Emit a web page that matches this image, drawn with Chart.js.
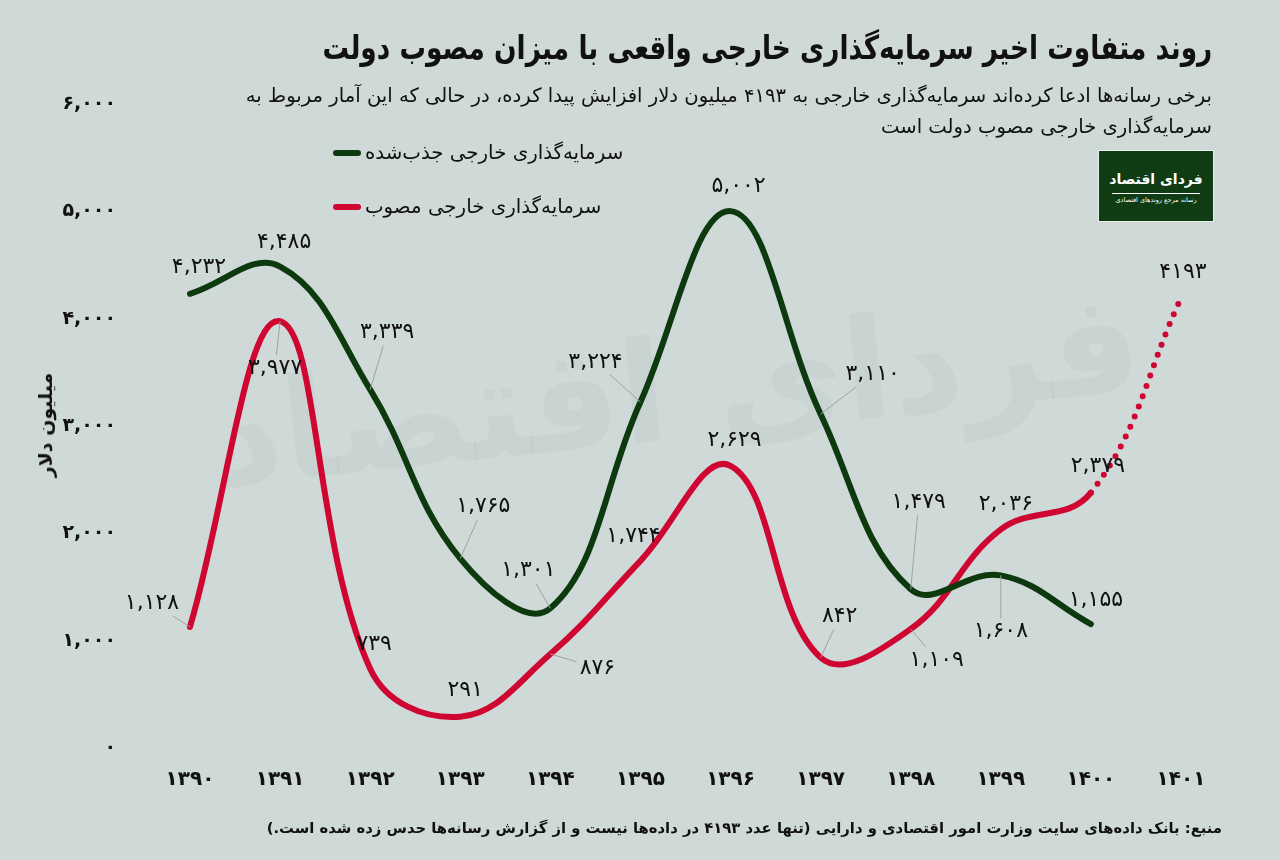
<!DOCTYPE html>
<html lang="fa">
<head>
<meta charset="utf-8">
<script src="https://cdn.jsdelivr.net/npm/chart.js@4.4.1/dist/chart.umd.min.js"></script>
<style>
  html, body { margin: 0; padding: 0; }
  body { width: 1280px; height: 860px; background: #cfd9d7; position: relative; overflow: hidden;
         font-family: "DejaVu Sans", sans-serif; color: #111; }
  #wrap { position: absolute; left: 0; top: 0; width: 1280px; height: 860px; }
  .txt { position: absolute; direction: rtl; white-space: nowrap; }
  #title { right: 68px; top: 28px; font-size: 33px; font-weight: bold; transform: scaleX(0.8); transform-origin: right center; }
  #sub1 { right: 68px; top: 84px; font-size: 19.6px; }
  #sub2 { right: 68px; top: 115px; font-size: 19.6px; }
  .leg { position: absolute; left: 333px; direction: ltr; display: flex; align-items: center; font-size: 19.8px; }
  .leg span.sw { display: inline-block; width: 28px; height: 6px; border-radius: 3px; margin-right: 4px; }
  .leg span.lb { direction: rtl; }
  #ytitle { position: absolute; left: 45px; top: 425px; transform: translate(-50%, -50%) rotate(-90deg);
            font-size: 19px; font-weight: bold; white-space: nowrap; direction: rtl; }
  #source { right: 58px; top: 819px; font-size: 14.8px; font-weight: bold; }
  #logo { position: absolute; left: 1098px; top: 150px; width: 116px; height: 72px; background: #0f3c12;
          border: 1px solid #e8efe9; box-sizing: border-box; color: #fff; text-align: center; direction: rtl; white-space: nowrap; }
  #logo .big { font-size: 14px; font-weight: bold; margin-top: 17px; line-height: 22px; }
  #logo .rule { width: 88px; height: 1px; background: #fff; margin: 3px auto 2px; }
  #logo .small { font-size: 6.5px; }
  #mark { position: absolute; left: 675px; top: 390px; transform: translate(-50%, -50%) rotate(-6deg);
          font-size: 140px; font-weight: bold; color: rgba(60, 90, 80, 0.035); white-space: nowrap; direction: rtl; }
  canvas { position: absolute; left: 0; top: 0; }
</style>
</head>
<body>
<div id="wrap">
  <div id="mark">فردای اقتصاد</div>
  <canvas id="chart" width="1280" height="860"></canvas>
  <div class="txt" id="title">روند متفاوت اخیر سرمایه‌گذاری خارجی واقعی با میزان مصوب دولت</div>
  <div class="txt" id="sub1">برخی رسانه‌ها ادعا کرده‌اند سرمایه‌گذاری خارجی به ۴۱۹۳ میلیون دلار افزایش پیدا کرده، در حالی که این آمار مربوط به</div>
  <div class="txt" id="sub2">سرمایه‌گذاری خارجی مصوب دولت است</div>
  <div class="leg" style="top:141px"><span class="sw" style="background:#0c3a0e"></span><span class="lb">سرمایه‌گذاری خارجی جذب‌شده</span></div>
  <div class="leg" style="top:195px"><span class="sw" style="background:#cf0532"></span><span class="lb">سرمایه‌گذاری خارجی مصوب</span></div>
  <div id="logo"><div class="big">فردای اقتصاد</div><div class="rule"></div><div class="small">رسانه مرجع روندهای اقتصادی</div></div>
  <div id="ytitle">میلیون دلار</div>
  <div class="txt" id="source">منبع: بانک داده‌های سایت وزارت امور اقتصادی و دارایی (تنها عدد ۴۱۹۳ در داده‌ها نیست و از گزارش رسانه‌ها حدس زده شده است.)</div>
</div>
<script>
// ── data ──────────────────────────────────
var years     = ['۱۳۹۰', '۱۳۹۱', '۱۳۹۲', '۱۳۹۳', '۱۳۹۴', '۱۳۹۵', '۱۳۹۶', '۱۳۹۷', '۱۳۹۸', '۱۳۹۹', '۱۴۰۰', '۱۴۰۱'];
var attracted = [4232, 4485, 3339, 1765, 1301, 3224, 5002, 3110, 1479, 1608, 1155, null];
var approved  = [1128, 3977, 739, 291, 876, 1744, 2629, 842, 1109, 2036, 2379, 4193];
var yMin = 0, yMax = 6000, yStep = 1000;

// label placement: [dx, dy, leader]
var greenLbl = [[9,-26,0],[4,-24,0],[17,-57,1],[23,-52,1],[-22,-38,1],[-45,-40,1],[8,-25,0],[52,-40,1],[8,-87,1],[0,56,1],[5,-24,0]];
var redLbl   = [[-38,-24,1],[-5,47,1],[4,-24,0],[5,-26,0],[47,14,1],[-7,-25,0],[4,-26,0],[19,-41,1],[26,31,1],[5,-25,0],[7,-26,0],[2,-26,0]];

var GREEN = '#0c3a0e', RED = '#cf0532';
var FA = '۰۱۲۳۴۵۶۷۸۹';

function fa(s) { return String(s).replace(/[0-9]/g, function (d) { return FA[+d]; }); }
function fmt(n, comma) { return fa(comma ? n.toLocaleString('en-US') : n); }

var labelPlugin = {
  id: 'valueLabels',
  afterDatasetsDraw: function (chart) {
    var c = chart.ctx;
    c.save();
    c.font = '22px "DejaVu Sans"';
    c.textAlign = 'center';
    c.textBaseline = 'middle';
    chart.data.datasets.forEach(function (ds, di) {
      var meta = chart.getDatasetMeta(di);
      var place = di === 0 ? greenLbl : redLbl;
      meta.data.forEach(function (pt, i) {
        var v = ds.data[i];
        if (v == null || !place[i]) return;
        var p = place[i];
        var lx = pt.x + p[0], ly = pt.y + p[1];
        var txt = fmt(v, i !== 11);
        if (p[2]) {
          var w = c.measureText(txt).width / 2 + 3, h = 13;
          var dx = pt.x - lx, dy = pt.y - ly;
          var k = Math.min(w / Math.abs(dx || 1e-6), h / Math.abs(dy || 1e-6));
          c.strokeStyle = '#9aa3a1';
          c.lineWidth = 1;
          c.beginPath();
          c.moveTo(lx + dx * k, ly + dy * k);
          c.lineTo(pt.x, pt.y);
          c.stroke();
        }
        c.fillStyle = '#111';
        c.fillText(txt, lx, ly);
      });
    });
    c.restore();
  }
};

new Chart(document.getElementById('chart').getContext('2d'), {
  type: 'line',
  data: {
    labels: years,
    datasets: [{
      data: attracted,
      borderColor: GREEN,
      borderWidth: 6,
      borderCapStyle: 'round',
      pointRadius: 0,
      tension: 0.4,
      fill: false,
    }, {
      data: approved,
      borderColor: RED,
      borderWidth: 6,
      borderCapStyle: 'round',
      pointRadius: 0,
      tension: 0.4,
      fill: false,
      segment: {
        borderDash: function (ctx) { return ctx.p0DataIndex === 10 ? [0, 11] : undefined; },
      },
    }],
  },
  options: {
    responsive: false,
    animation: false,
    layout: { padding: { left: 0, right: 99, top: 104, bottom: 0 } },
    plugins: { legend: { display: false }, tooltip: { enabled: false } },
    scales: {
      x: {
        grid: { display: false, drawTicks: false },
        border: { display: false },
        ticks: { color: '#111', font: { family: 'DejaVu Sans', size: 20, weight: 'bold' }, padding: 20, maxRotation: 0 },
        afterFit: function (s) { s.height = 112; },
      },
      y: {
        min: yMin, max: yMax,
        grid: { display: false, drawTicks: false },
        border: { display: false },
        ticks: {
          stepSize: yStep,
          color: '#111',
          padding: 74,
          font: { family: 'DejaVu Sans', size: 19, weight: 'bold' },
          callback: function (v) { return fmt(v, true); },
        },
        afterFit: function (s) { s.width = 190; },
      },
    },
  },
  plugins: [labelPlugin],
});
</script>
</body>
</html>
